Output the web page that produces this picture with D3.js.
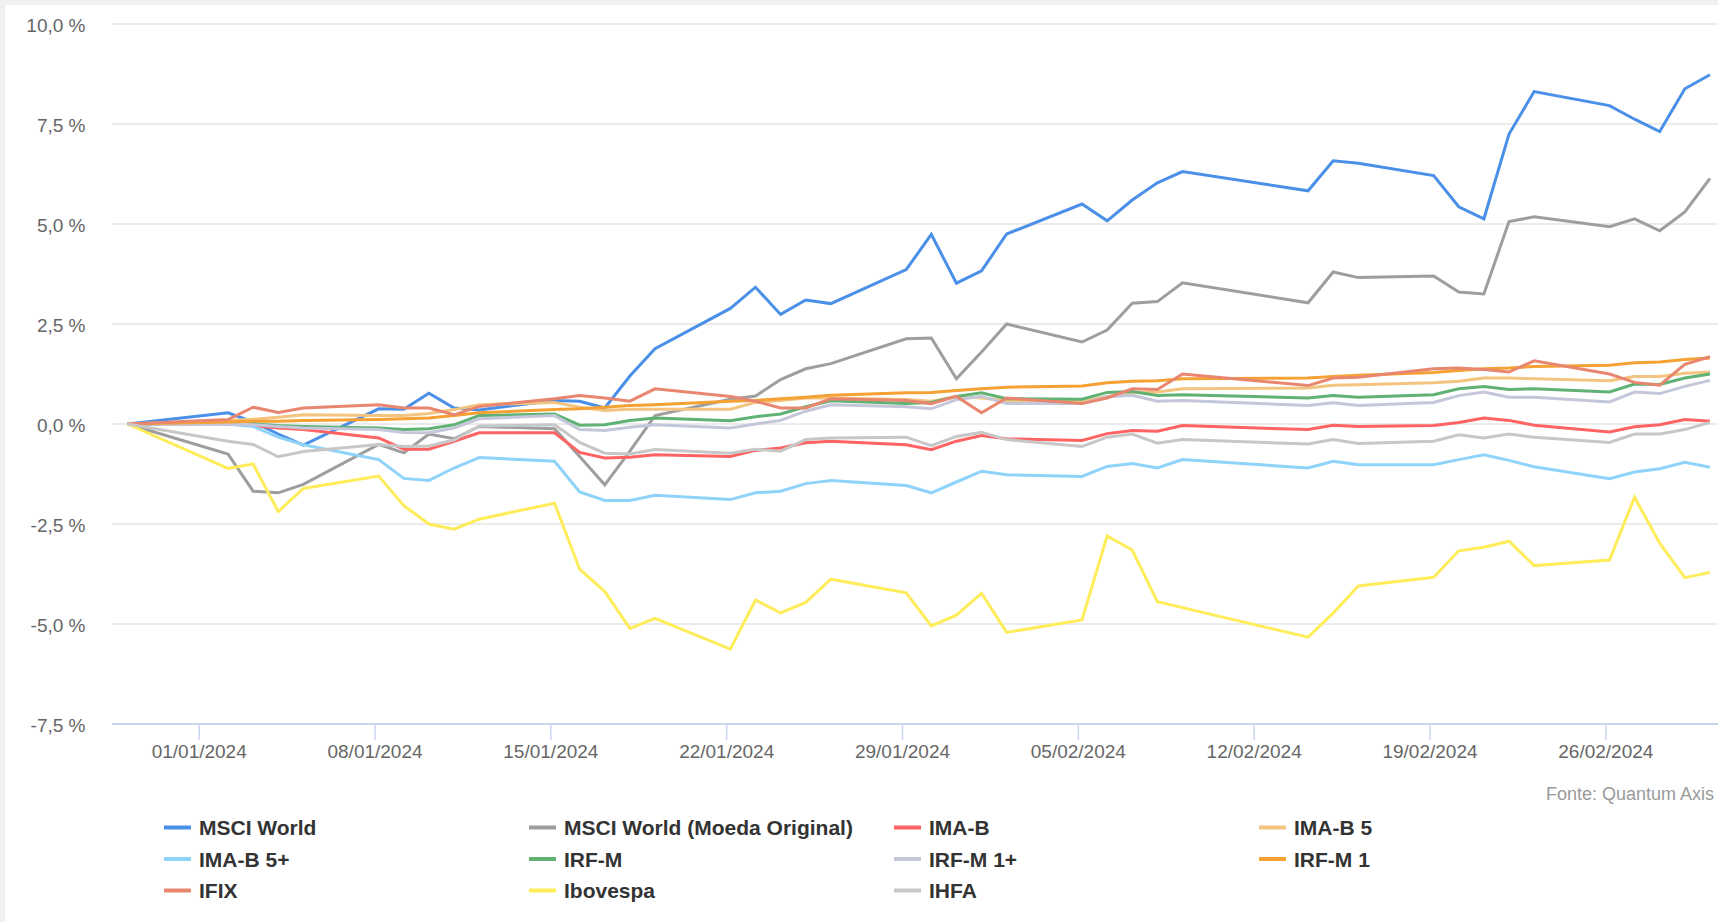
<!DOCTYPE html>
<html>
<head>
<meta charset="utf-8">
<style>
  html, body { margin: 0; padding: 0; background: #f1f1f1; overflow: hidden; }
  svg { display: block; font-family: Arial, "Liberation Sans", sans-serif; }
</style>
</head>
<body>
<div id="chart"></div>

<script src="https://cdnjs.cloudflare.com/ajax/libs/d3/7.8.5/d3.min.js"></script>
<script>
  // Chart size
  const width = 1718;
  const height = 922;

  // Dates (business days) and tick labels
  const dates = ["2023-12-29","2024-01-02","2024-01-03","2024-01-04","2024-01-05","2024-01-08","2024-01-09","2024-01-10","2024-01-11","2024-01-12","2024-01-15","2024-01-16","2024-01-17","2024-01-18","2024-01-19","2024-01-22","2024-01-23","2024-01-24","2024-01-25","2024-01-26","2024-01-29","2024-01-30","2024-01-31","2024-02-01","2024-02-02","2024-02-05","2024-02-06","2024-02-07","2024-02-08","2024-02-09","2024-02-14","2024-02-15","2024-02-16","2024-02-19","2024-02-20","2024-02-21","2024-02-22","2024-02-23","2024-02-26","2024-02-27","2024-02-28","2024-02-29","2024-03-01"];
  const xTickLabels = ["01/01/2024","08/01/2024","15/01/2024","22/01/2024","29/01/2024","05/02/2024","12/02/2024","19/02/2024","26/02/2024"];
  const yTicks = [-7.5, -5, -2.5, 0, 2.5, 5, 7.5, 10];

  // Series values (% accumulated)
  const msciWorld = [0,0.28,0.05,-0.25,-0.53, 0.38,0.37,0.77,0.40,0.35, 0.59,0.57,0.40,1.20,1.88, 2.89,3.42,2.74,3.10,3.01, 3.86,4.74,3.52,3.83,4.75, 5.50,5.08,5.60,6.03,6.31, 5.83,6.58,6.52, 6.21,5.43,5.13,7.25,8.31, 7.96,7.62,7.31,8.38,8.73];
  const msciOrig = [0,-0.75,-1.68,-1.72,-1.51, -0.51,-0.72,-0.25,-0.37,-0.06, -0.12,-0.81,-1.52,-0.68,0.21, 0.62,0.70,1.11,1.38,1.51, 2.13,2.15,1.13,1.80,2.50, 2.05,2.35,3.02,3.06,3.53, 3.03,3.80,3.66, 3.70,3.30,3.25,5.06,5.18, 4.93,5.13,4.83,5.30,6.14];
  const imaB = [0,0.0,-0.04,-0.10,-0.14, -0.35,-0.63,-0.63,-0.43,-0.22, -0.22,-0.71,-0.85,-0.83,-0.77, -0.81,-0.66,-0.60,-0.47,-0.43, -0.52,-0.64,-0.43,-0.29,-0.37, -0.41,-0.24,-0.16,-0.18,-0.04, -0.14,-0.03,-0.06, -0.04,0.04,0.15,0.09,-0.03, -0.20,-0.07,-0.02,0.11,0.07];
  const imaB5 = [0,0.09,0.12,0.17,0.23, 0.21,0.21,0.26,0.36,0.48, 0.54,0.42,0.34,0.37,0.37, 0.37,0.54,0.59,0.65,0.65, 0.61,0.57,0.69,0.65,0.59, 0.57,0.69,0.78,0.80,0.88, 0.90,0.97,0.98, 1.03,1.07,1.15,1.15,1.13, 1.08,1.19,1.19,1.27,1.30];
  const imaB5plus = [0,0.0,-0.06,-0.33,-0.52, -0.89,-1.36,-1.41,-1.10,-0.84, -0.93,-1.70,-1.91,-1.91,-1.78, -1.89,-1.72,-1.68,-1.49,-1.41, -1.54,-1.72,-1.45,-1.18,-1.27, -1.31,-1.06,-0.99,-1.10,-0.89, -1.10,-0.93,-1.02, -1.02,-0.89,-0.77,-0.91,-1.07, -1.37,-1.20,-1.12,-0.96,-1.08];
  const irfM = [0,0.03,0.0,-0.04,-0.06, -0.10,-0.14,-0.12,-0.02,0.21, 0.25,-0.03,-0.02,0.09,0.15, 0.08,0.18,0.25,0.43,0.58, 0.51,0.54,0.69,0.78,0.63, 0.62,0.79,0.81,0.71,0.73, 0.65,0.71,0.67, 0.73,0.88,0.94,0.86,0.88, 0.80,1.00,0.99,1.15,1.25];
  const irfM1plus = [0,0.0,-0.02,-0.06,-0.10, -0.14,-0.21,-0.22,-0.10,0.13, 0.21,-0.14,-0.16,-0.08,-0.02, -0.10,0.0,0.09,0.32,0.48, 0.43,0.38,0.61,0.69,0.51, 0.51,0.68,0.72,0.57,0.59, 0.46,0.53,0.46, 0.54,0.71,0.80,0.67,0.67, 0.55,0.80,0.76,0.94,1.09];
  const irfM1 = [0,0.05,0.07,0.07,0.09, 0.11,0.13,0.15,0.21,0.28, 0.36,0.38,0.42,0.46,0.48, 0.57,0.59,0.63,0.67,0.72, 0.78,0.79,0.84,0.88,0.92, 0.95,1.03,1.07,1.08,1.13, 1.15,1.19,1.22, 1.29,1.34,1.38,1.40,1.44, 1.47,1.53,1.55,1.61,1.65];
  const ifix = [0,0.11,0.42,0.29,0.40, 0.48,0.40,0.40,0.23,0.44, 0.63,0.71,0.65,0.57,0.88, 0.69,0.57,0.40,0.40,0.63, 0.59,0.51,0.69,0.28,0.65, 0.51,0.65,0.88,0.86,1.25, 0.96,1.15,1.17, 1.38,1.40,1.36,1.30,1.58, 1.25,1.04,0.97,1.49,1.68];
  const ibovespa = [0,-1.11,-1.00,-2.19,-1.61, -1.30,-2.04,-2.50,-2.63,-2.38, -1.98,-3.63,-4.19,-5.11,-4.86, -5.63,-4.40,-4.72,-4.46,-3.88, -4.22,-5.05,-4.78,-4.23,-5.21, -4.90,-2.80,-3.15,-4.44,-4.59, -5.33,-4.73,-4.05, -3.83,-3.17,-3.08,-2.93,-3.54, -3.40,-1.83,-2.98,-3.84,-3.71];
  const ihfa = [0,-0.43,-0.51,-0.82,-0.69, -0.51,-0.56,-0.55,-0.40,-0.05, -0.02,-0.46,-0.73,-0.75,-0.64, -0.73,-0.63,-0.68,-0.39,-0.35, -0.33,-0.54,-0.31,-0.21,-0.39, -0.56,-0.33,-0.25,-0.48,-0.39, -0.50,-0.39,-0.49, -0.43,-0.27,-0.35,-0.25,-0.33, -0.46,-0.25,-0.25,-0.14,0.04];

  const seriesNames = ["MSCI World","MSCI World (Moeda Original)","IMA-B","IMA-B 5","IMA-B 5+","IRF-M","IRF-M 1+","IRF-M 1","IFIX","Ibovespa","IHFA"];
  const seriesValues = [msciWorld, msciOrig, imaB, imaB5, imaB5plus, irfM, irfM1plus, irfM1, ifix, ibovespa, ihfa];
  const colors = ["#4a8fe8","#9e9e9e","#ff6363","#f3c47f","#8fd3fa","#5fb274","#c4c7da","#f5a133","#e8866f","#ffec5a","#c7c7c7"];

  // Parse dates; data points sit a few hours after the day tick
  const parseDay = d3.timeParse("%Y-%m-%d");
  const parseTick = d3.timeParse("%d/%m/%Y");
  const pointDates = dates.map(d => d3.timeHour.offset(parseDay(d), 4));
  const tickDates = xTickLabels.map(parseTick);

  const series = seriesNames.map((name, i) => ({
    name,
    color: colors[i],
    values: seriesValues[i].map((v, j) => ({date: pointDates[j], value: v}))
  }));

  // Layout
  const plotLeft = 112;
  const plotRight = width;
  const plotTop = 24;
  const plotBottom = 724;

  const x = d3.scaleTime()
    .domain([tickDates[0], tickDates[tickDates.length - 1]])
    .range([198.7, 1605.3]);

  const y = d3.scaleLinear()
    .domain([-7.5, 10])
    .range([plotBottom, plotTop]);

  // pt-BR number format with a plain hyphen for negatives
  const ptBR = d3.formatLocale({decimal: ",", thousands: ".", grouping: [3], currency: ["R$", ""], minus: "-"});
  const fmt = ptBR.format(".1f");

  const svg = d3.create("svg")
    .attr("width", width)
    .attr("height", height)
    .attr("viewBox", [0, 0, width, height]);

  // white card
  svg.append("rect")
    .attr("x", 5).attr("y", 5)
    .attr("width", width).attr("height", height)
    .attr("fill", "#ffffff");

  // horizontal gridlines
  svg.append("g")
    .selectAll("line")
    .data(yTicks.filter(t => t !== -7.5))
    .join("line")
    .attr("x1", plotLeft).attr("x2", plotRight)
    .attr("y1", d => y(d)).attr("y2", d => y(d))
    .attr("stroke", "#e4e4e4")
    .attr("stroke-width", 1.5);

  // y labels
  svg.append("g")
    .selectAll("text")
    .data(yTicks)
    .join("text")
    .attr("x", 85.5)
    .attr("y", d => y(d) + 7.5)
    .attr("text-anchor", "end")
    .attr("font-size", 19)
    .attr("fill", "#666666")
    .text(d => fmt(d) + " %");

  // x axis (baseline + ticks + labels)
  const xAxis = d3.axisBottom(x)
    .tickValues(tickDates)
    .tickSize(16)
    .tickFormat((d, i) => xTickLabels[i]);

  const gx = svg.append("g")
    .attr("transform", `translate(0,${plotBottom})`)
    .call(xAxis);
  gx.select(".domain").remove();
  gx.selectAll(".tick line").attr("stroke", "#c9d5ee").attr("stroke-width", 1.5);
  gx.selectAll(".tick text")
    .attr("y", 33.5)
    .attr("dy", null)
    .attr("font-family", "Arial, 'Liberation Sans', sans-serif")
    .attr("font-size", 19)
    .attr("fill", "#666666");

  svg.append("line")
    .attr("x1", plotLeft).attr("x2", plotRight)
    .attr("y1", plotBottom).attr("y2", plotBottom)
    .attr("stroke", "#c9d5ee")
    .attr("stroke-width", 2);

  // lines
  const line = d3.line()
    .x(d => x(d.date))
    .y(d => y(d.value));

  svg.append("g")
    .selectAll("path")
    .data(series)
    .join("path")
    .attr("d", d => line(d.values))
    .attr("fill", "none")
    .attr("stroke", d => d.color)
    .attr("stroke-width", 3);

  // source
  svg.append("text")
    .attr("x", 1714)
    .attr("y", 800)
    .attr("text-anchor", "end")
    .attr("font-size", 18)
    .attr("fill", "#9a9a9a")
    .text("Fonte: Quantum Axis");

  // legend
  const legend = svg.append("g")
    .selectAll("g")
    .data(series)
    .join("g")
    .attr("transform", (d, i) => `translate(${164 + (i % 4) * 365},${827.5 + Math.floor(i / 4) * 31.5})`);

  legend.append("line")
    .attr("x1", 0).attr("x2", 27)
    .attr("stroke", d => d.color)
    .attr("stroke-width", 4);

  legend.append("text")
    .attr("x", 35)
    .attr("y", 7.5)
    .attr("font-size", 21)
    .attr("font-weight", "bold")
    .attr("fill", "#333333")
    .text(d => d.name);

  d3.select("#chart").node().appendChild(svg.node());
</script>
</body>
</html>
